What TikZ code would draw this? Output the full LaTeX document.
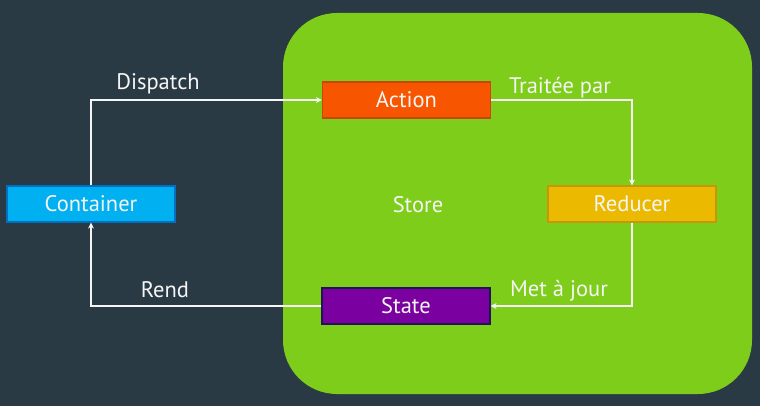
\documentclass[tikz,border=0pt]{standalone}
\usepackage{fontspec}
\setmainfont{PT Sans}
\usetikzlibrary{arrows.meta, positioning}

\definecolor{bgdark}{RGB}{42,58,68}
\definecolor{storegreen}{RGB}{125,205,26}
\definecolor{actionfill}{RGB}{247,85,0}
\definecolor{actionline}{RGB}{200,70,10}
\definecolor{reducerfill}{RGB}{235,186,0}
\definecolor{reducerline}{RGB}{200,150,10}
\definecolor{statefill}{RGB}{123,0,160}
\definecolor{stateline}{RGB}{30,20,90}
\definecolor{containerfill}{RGB}{0,176,240}
\definecolor{containerline}{RGB}{0,112,192}
\definecolor{textwhite}{RGB}{245,245,245}

\begin{document}
\begin{tikzpicture}[x=1pt, y=-1pt,
    box/.style={rectangle, minimum width=168pt, minimum height=36pt, line width=1.2pt, text=textwhite, font=\fontsize{22.5}{26}\selectfont},
    lbl/.style={text=textwhite, font=\fontsize{22.5}{26}\selectfont},
    flow/.style={draw=textwhite, line width=1.5pt, -{Stealth[length=6pt, width=6pt]}}]
\useasboundingbox (0,0) rectangle (760,406);
\fill[bgdark] (0,0) rectangle (760,406);

% store
\fill[storegreen, rounded corners=54pt] (283,13) rectangle (752,394);
\node[lbl] (store) at (418,205) {Store};

% boxes
\node[box, fill=actionfill, draw=actionline] (action) at (406.5,100) {Action};
\node[box, fill=reducerfill, draw=reducerline] (reducer) at (632,204) {Reducer};
\node[box, fill=statefill, draw=stateline] (state) at (406,306) {State};
\node[box, fill=containerfill, draw=containerline] (container) at (91,204) {Container};

% connectors
\draw[flow] (container.north) |- (action.west);
\draw[flow] (action.east) -| (reducer.north);
\draw[flow] (reducer.south) |- (state.east);
\draw[flow] (state.west) -| (container.south);

% labels
\node[lbl] (dispatch) at (158,84) {Dispatch};
\node[lbl] (traitee) at (560,88) {Traitée par};
\node[lbl] (majour) at (559,291) {Met à jour};
\node[lbl] (rend) at (165,290) {Rend};
\end{tikzpicture}
\end{document}
